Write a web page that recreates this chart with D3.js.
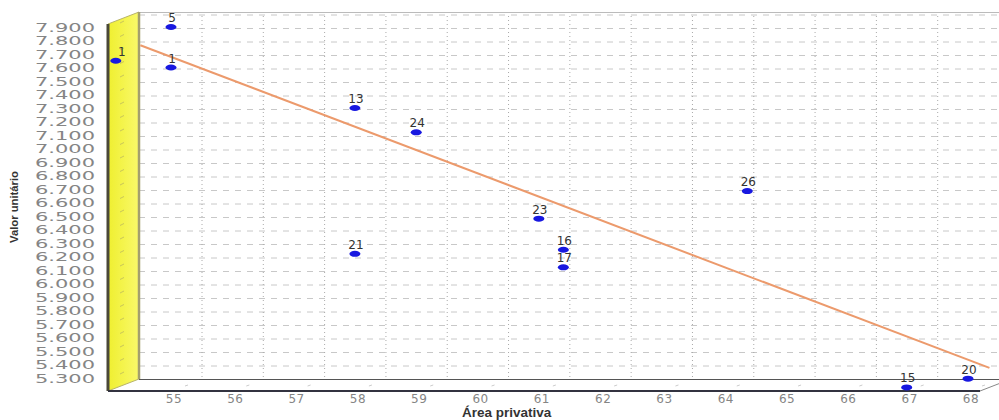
<!DOCTYPE html>
<html lang="pt-BR">
<head>
    <meta charset="utf-8" />
    <title>Valor unitário x Área privativa</title>
    <script src="https://d3js.org/d3.v7.min.js"></script>
    <style>
        body {
            margin: 0;
            padding: 0;
            background: white;
        }
        svg {
            display: block;
        }
    </style>
</head>
<body>
<svg id="chart"></svg>
<script>
    var w = 999;
    var h = 420;

    // Data
    var pointLabels = ["1", "5", "1", "13", "21", "24", "23", "16", "17", "26", "15", "20"];
    var areaPrivativa = [54.1, 55, 55, 58, 58, 59, 61, 61.4, 61.4, 64.4, 67, 68];
    var valorUnitario = [7650, 7900, 7600, 7300, 6220, 7120, 6480, 6250, 6120, 6685, 5230, 5295];

    // Regression line end points
    var regX = [54.5, 68.35];
    var regY = [7765, 5375];

    var xTicks = d3.range(55, 69);
    var yTicks = d3.range(5300, 7901, 100);

    // Pseudo 3D frame: front edge and depth offset of the back wall
    var frontLeft = 108, frontRight = 980, frontTop = 24, frontBottom = 391;
    var dx = 31, dy = 12;

    var svg = d3.select("#chart")
                .attr("width", w)
                .attr("height", h);

    var xScale = d3.scaleLinear()
                .domain([55, 68])
                .range([171, 968]);

    var yScale = d3.scaleLinear()
                .domain([5300, 7900])
                .range([378, 27]);

    var ptBR = d3.formatLocale({decimal: ",", thousands: ".", grouping: [3], currency: ["R$", ""]});
    var fmt = ptBR.format(",d");

    var defs = svg.append("defs");
    var grad = defs.append("linearGradient")
                .attr("id", "wallGrad")
                .attr("x1", "0").attr("x2", "1").attr("y1", "0").attr("y2", "0");
    grad.append("stop").attr("offset", "0%").attr("stop-color", "#efef30");
    grad.append("stop").attr("offset", "100%").attr("stop-color", "#f9f96a");

    // Back wall
    svg.append("rect")
        .attr("x", frontLeft + dx)
        .attr("y", frontTop - dy)
        .attr("width", w - frontLeft - dx + 5)
        .attr("height", frontBottom - frontTop)
        .attr("fill", "white");

    // Horizontal gridlines (dashed) on back wall
    svg.append("g")
        .selectAll("line")
        .data(yTicks)
        .enter().append("line")
        .attr("x1", frontLeft + dx)
        .attr("x2", w)
        .attr("y1", function(d) { return yScale(d) - dy; })
        .attr("y2", function(d) { return yScale(d) - dy; })
        .attr("stroke", "#c8c8c8")
        .attr("stroke-dasharray", "6,6");

    // Vertical gridlines (dotted) on back wall
    svg.append("g")
        .selectAll("line")
        .data(xTicks.slice(0, -1))
        .enter().append("line")
        .attr("x1", function(d) { return xScale(d) + dx; })
        .attr("x2", function(d) { return xScale(d) + dx; })
        .attr("y1", frontTop - dy)
        .attr("y2", frontBottom - dy)
        .attr("stroke", "#aaaaaa")
        .attr("stroke-dasharray", "1,3");

    // Top and bottom edges of back wall
    svg.append("line")
        .attr("x1", frontLeft + dx).attr("x2", w)
        .attr("y1", frontTop - dy + 0.5).attr("y2", frontTop - dy + 0.5)
        .attr("stroke", "#bbbbbb");
    svg.append("line")
        .attr("x1", frontLeft + dx).attr("x2", w)
        .attr("y1", frontBottom - dy + 0.5).attr("y2", frontBottom - dy + 0.5)
        .attr("stroke", "#555555")
        .attr("stroke-width", 1.2);

    // Floor tick marks
    svg.append("g")
        .selectAll("line")
        .data(xTicks)
        .enter().append("line")
        .attr("x1", function(d) { return xScale(d) + 14; })
        .attr("x2", function(d) { return xScale(d) + 17; })
        .attr("y1", frontBottom - 5)
        .attr("y2", frontBottom - 6)
        .attr("stroke", "#cccccc");

    // Left (yellow) wall
    svg.append("polygon")
        .attr("points", [
            [frontLeft, frontTop], [frontLeft + dx, frontTop - dy],
            [frontLeft + dx, frontBottom - dy], [frontLeft, frontBottom]
        ].join(" "))
        .attr("fill", "url(#wallGrad)")
        .attr("stroke", "#b8b46a")
        .attr("stroke-width", 1);

    // Small marks on the yellow wall
    svg.append("g")
        .selectAll("line")
        .data(yTicks)
        .enter().append("line")
        .attr("x1", frontLeft + 12)
        .attr("x2", frontLeft + 16)
        .attr("y1", function(d) { return yScale(d) - 4; })
        .attr("y2", function(d) { return yScale(d) - 6; })
        .attr("stroke", "#c9c65a");

    // Back wall left edge (olive)
    svg.append("line")
        .attr("x1", frontLeft + dx).attr("x2", frontLeft + dx)
        .attr("y1", frontTop - dy).attr("y2", frontBottom - dy)
        .attr("stroke", "#a39f6e")
        .attr("stroke-width", 2.5);

    // Front left edge (dark)
    svg.append("line")
        .attr("x1", frontLeft).attr("x2", frontLeft)
        .attr("y1", frontTop).attr("y2", frontBottom)
        .attr("stroke", "#4a4838")
        .attr("stroke-width", 3);

    // Front bottom edge + right floor edge
    svg.append("line")
        .attr("x1", frontLeft).attr("x2", frontRight)
        .attr("y1", frontBottom).attr("y2", frontBottom)
        .attr("stroke", "#333340")
        .attr("stroke-width", 2);
    svg.append("line")
        .attr("x1", frontRight).attr("x2", frontRight + dx)
        .attr("y1", frontBottom).attr("y2", frontBottom - dy)
        .attr("stroke", "#888888");

    // Y tick labels
    svg.append("g")
        .selectAll("text")
        .data(yTicks)
        .enter().append("text")
        .attr("x", 35)
        .attr("y", function(d) { return yScale(d); })
        .attr("dy", "0.36em")
        .attr("textLength", 60)
        .attr("lengthAdjust", "spacingAndGlyphs")
        .attr("font-family", "DejaVu Sans, sans-serif")
        .attr("font-size", "13px")
        .attr("fill", "#858585")
        .text(function(d) { return fmt(d); });

    // X tick labels
    svg.append("g")
        .selectAll("text")
        .data(xTicks)
        .enter().append("text")
        .attr("x", function(d) { return xScale(d) + 3; })
        .attr("y", 399)
        .attr("dy", "0.36em")
        .attr("text-anchor", "middle")
        .attr("font-family", "DejaVu Sans, sans-serif")
        .attr("font-size", "12px")
        .attr("letter-spacing", "0.5px")
        .attr("fill", "#858585")
        .text(function(d) { return d; });

    // Regression line
    svg.append("line")
        .attr("x1", xScale(regX[0])).attr("y1", yScale(regY[0]))
        .attr("x2", xScale(regX[1])).attr("y2", yScale(regY[1]))
        .attr("stroke", "#ec9a6c")
        .attr("stroke-width", 2);

    // Points
    var points = d3.range(pointLabels.length);

    svg.append("g")
        .selectAll("ellipse")
        .data(points)
        .enter().append("ellipse")
        .attr("cx", function(i) { return xScale(areaPrivativa[i]); })
        .attr("cy", function(i) { return yScale(valorUnitario[i]); })
        .attr("rx", 5.5)
        .attr("ry", 3)
        .attr("fill", "#1818e0");

    svg.append("g")
        .selectAll("text")
        .data(points)
        .enter().append("text")
        .attr("x", function(i) { return xScale(areaPrivativa[i]) + (i === 0 ? 6 : 1); })
        .attr("y", function(i) { return yScale(valorUnitario[i]) - 5; })
        .attr("text-anchor", "middle")
        .attr("font-family", "DejaVu Sans, sans-serif")
        .attr("font-size", "12px")
        .attr("fill", "#333333")
        .text(function(i) { return pointLabels[i]; });

    // Axis titles
    svg.append("text")
        .attr("x", 462)
        .attr("y", 416.5)
        .attr("font-family", "Liberation Sans, Arial, sans-serif")
        .attr("font-size", "13.5px")
        .attr("font-weight", "bold")
        .attr("fill", "#333333")
        .text("Área privativa");

    svg.append("text")
        .attr("transform", "translate(18,207) rotate(-90)")
        .attr("text-anchor", "middle")
        .attr("textLength", 72)
        .attr("lengthAdjust", "spacingAndGlyphs")
        .attr("font-family", "Liberation Sans, Arial, sans-serif")
        .attr("font-size", "11px")
        .attr("font-weight", "bold")
        .attr("fill", "#333333")
        .text("Valor unitário");
</script>
</body>
</html>
